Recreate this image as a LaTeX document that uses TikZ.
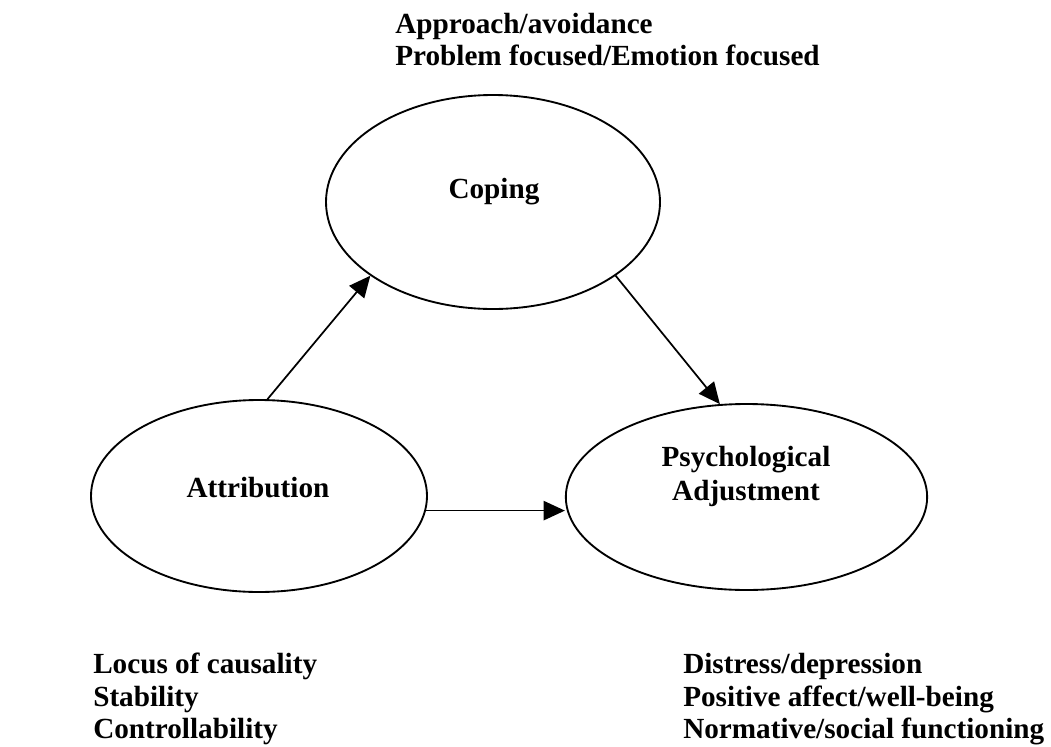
\documentclass[tikz,border=0pt]{standalone}
\usepackage{fontspec}
\setmainfont{Liberation Serif}
\usetikzlibrary{shapes.geometric,arrows.meta}
\begin{document}
\begin{tikzpicture}[x=0.75pt,y=-0.75pt,
  bubble/.style={draw, ellipse, line width=1.4pt, inner sep=0pt},
  txt/.style={font=\fontsize{21.9}{24.5}\selectfont\bfseries, inner sep=0pt},
  link/.style={line width=1.3pt, -{Triangle[length=16pt,width=14.5pt]}}]
\useasboundingbox (0,0) rectangle (1051,747);

% the three constructs
\node[bubble, minimum width=252pt, minimum height=144pt] (att) at (259,496) {};
\node[bubble, minimum width=250.5pt, minimum height=160.5pt] (cop) at (493,202) {};
\node[bubble, minimum width=271pt, minimum height=139.5pt] (psy) at (746.5,497) {};

% their titles
\node[txt, anchor=base] (copt) at (494,198) {Coping};
\node[txt, anchor=base] (attt) at (258,497) {Attribution};
\node[txt, anchor=base] (psyt1) at (746,466) {Psychological};
\node[txt, anchor=base] (psyt2) at (746,500) {Adjustment};

% paths between constructs
\draw[link] (att.85.4) -- (cop.211);
\draw[link] (cop.329) -- (psy.106.6);
\draw[link] (att.-5.4) -- (att.-5.4 -| psy.west);

% dimensions of coping
\node[txt, anchor=base west] (c1) at (395,33) {Approach/avoidance};
\node[txt, anchor=base west] (c2) at (395,65) {Problem focused/Emotion focused};

% dimensions of attribution
\node[txt, anchor=base west] (a1) at (93,673) {Locus of causality};
\node[txt, anchor=base west] (a2) at (93,706) {Stability};
\node[txt, anchor=base west] (a3) at (93,738) {Controllability};

% dimensions of adjustment
\node[txt, anchor=base west] (p1) at (683,673) {Distress/depression};
\node[txt, anchor=base west] (p2) at (683,706) {Positive affect/well-being};
\node[txt, anchor=base west] (p3) at (683,738) {Normative/social functioning};
\end{tikzpicture}
\end{document}
